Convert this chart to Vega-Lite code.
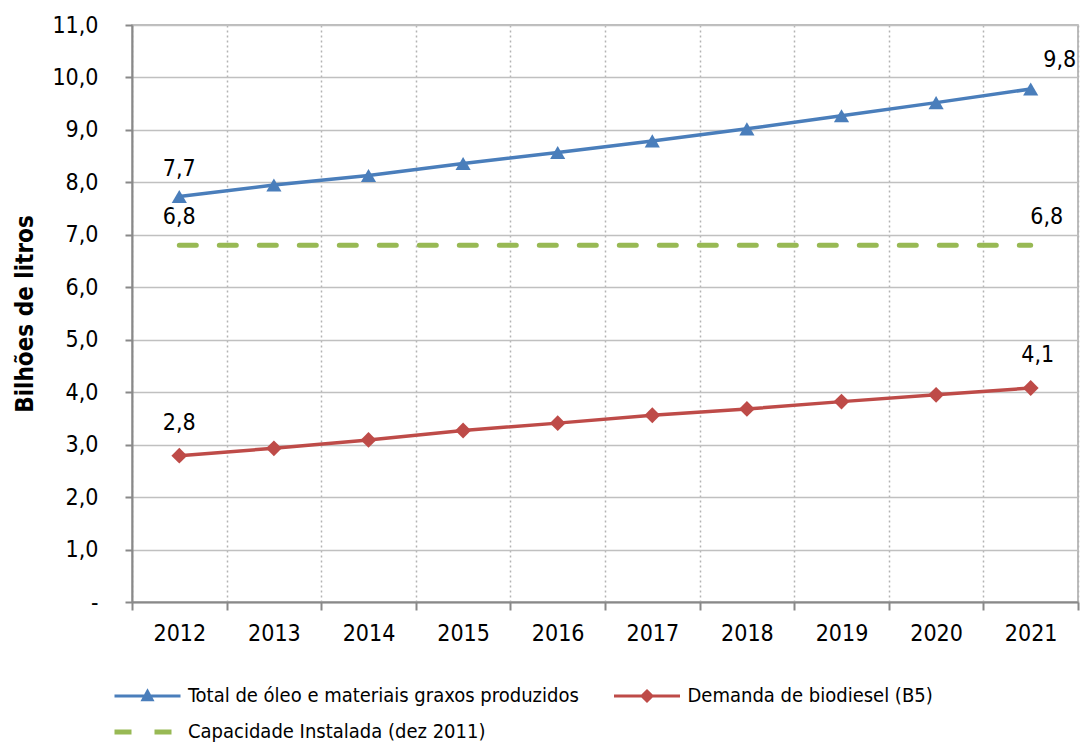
{
  "$schema": "https://vega.github.io/schema/vega-lite/v6.json",
  "width": 946,
  "height": 577,
  "autosize": {"type": "none"},
  "padding": {"left": 132, "top": 25, "right": 2, "bottom": 140},
  "background": "white",
  "config": {
    "font": "DejaVu Sans Condensed",
    "view": {"stroke": "#a6a6a6", "strokeWidth": 1.5},
    "legend": {
      "orient": "none",
      "title": null,
      "labelFontSize": 20,
      "labelColor": "#000000",
      "labelLimit": 700,
      "symbolSize": 400,
      "symbolOpacity": 1,
      "padding": 0
    }
  },
  "datasets": {
    "series": [
      {"series": "Total de óleo e materiais graxos produzidos", "year": 2012, "value": 7.73},
      {"series": "Total de óleo e materiais graxos produzidos", "year": 2013, "value": 7.95},
      {"series": "Total de óleo e materiais graxos produzidos", "year": 2014, "value": 8.13},
      {"series": "Total de óleo e materiais graxos produzidos", "year": 2015, "value": 8.36},
      {"series": "Total de óleo e materiais graxos produzidos", "year": 2016, "value": 8.57},
      {"series": "Total de óleo e materiais graxos produzidos", "year": 2017, "value": 8.79},
      {"series": "Total de óleo e materiais graxos produzidos", "year": 2018, "value": 9.02},
      {"series": "Total de óleo e materiais graxos produzidos", "year": 2019, "value": 9.27},
      {"series": "Total de óleo e materiais graxos produzidos", "year": 2020, "value": 9.52},
      {"series": "Total de óleo e materiais graxos produzidos", "year": 2021, "value": 9.78},
      {"series": "Demanda de biodiesel (B5)", "year": 2012, "value": 2.79},
      {"series": "Demanda de biodiesel (B5)", "year": 2013, "value": 2.93},
      {"series": "Demanda de biodiesel (B5)", "year": 2014, "value": 3.09},
      {"series": "Demanda de biodiesel (B5)", "year": 2015, "value": 3.27},
      {"series": "Demanda de biodiesel (B5)", "year": 2016, "value": 3.41},
      {"series": "Demanda de biodiesel (B5)", "year": 2017, "value": 3.56},
      {"series": "Demanda de biodiesel (B5)", "year": 2018, "value": 3.68},
      {"series": "Demanda de biodiesel (B5)", "year": 2019, "value": 3.82},
      {"series": "Demanda de biodiesel (B5)", "year": 2020, "value": 3.95},
      {"series": "Demanda de biodiesel (B5)", "year": 2021, "value": 4.08},
      {"series": "Capacidade Instalada (dez 2011)", "year": 2012, "value": 6.8},
      {"series": "Capacidade Instalada (dez 2011)", "year": 2013, "value": 6.8},
      {"series": "Capacidade Instalada (dez 2011)", "year": 2014, "value": 6.8},
      {"series": "Capacidade Instalada (dez 2011)", "year": 2015, "value": 6.8},
      {"series": "Capacidade Instalada (dez 2011)", "year": 2016, "value": 6.8},
      {"series": "Capacidade Instalada (dez 2011)", "year": 2017, "value": 6.8},
      {"series": "Capacidade Instalada (dez 2011)", "year": 2018, "value": 6.8},
      {"series": "Capacidade Instalada (dez 2011)", "year": 2019, "value": 6.8},
      {"series": "Capacidade Instalada (dez 2011)", "year": 2020, "value": 6.8},
      {"series": "Capacidade Instalada (dez 2011)", "year": 2021, "value": 6.8}
    ],
    "labels": [
      {"series": "Total", "year": 2012, "value": 7.73, "text": "7,7"},
      {"series": "Capacidade", "year": 2012, "value": 6.8, "text": "6,8"},
      {"series": "Demanda", "year": 2012, "value": 2.79, "text": "2,8"},
      {"series": "Total", "year": 2021, "value": 9.78, "text": "9,8"},
      {"series": "Capacidade", "year": 2021, "value": 6.8, "text": "6,8"},
      {"series": "Demanda", "year": 2021, "value": 4.08, "text": "4,1"}
    ]
  },
  "encoding": {
    "x": {
      "field": "year",
      "type": "quantitative",
      "scale": {"domain": [2011.5, 2021.5], "nice": false, "zero": false},
      "axis": {
        "title": null,
        "values": [2011.5, 2012, 2012.5, 2013, 2013.5, 2014, 2014.5, 2015, 2015.5, 2016, 2016.5, 2017, 2017.5, 2018, 2018.5, 2019, 2019.5, 2020, 2020.5, 2021, 2021.5],
        "labelExpr": "datum.value % 1 === 0 ? format(datum.value, 'd') : ''",
        "labelOverlap": false,
        "labelFlush": false,
        "labelBound": false,
        "labelFontSize": 23,
        "labelColor": "#000000",
        "labelPadding": 12,
        "grid": true,
        "gridDash": [2, 3],
        "gridColor": "#b3b3b3",
        "gridWidth": 1.5,
        "gridOpacity": {"condition": {"test": "datum.value % 1 === 0", "value": 0}, "value": 1},
        "ticks": true,
        "tickSize": 8,
        "tickWidth": 2,
        "tickColor": "#898989",
        "tickOpacity": {"condition": {"test": "datum.value % 1 === 0", "value": 0}, "value": 1},
        "domainColor": "#898989",
        "domainWidth": 2
      }
    },
    "y": {
      "field": "value",
      "type": "quantitative",
      "scale": {"domain": [0, 11], "nice": false, "zero": true},
      "axis": {
        "title": "Bilhões de litros",
        "titleFontSize": 24,
        "titleFontWeight": "bold",
        "titleColor": "#000000",
        "titlePadding": 14,
        "values": [0, 1, 2, 3, 4, 5, 6, 7, 8, 9, 10, 11],
        "labelExpr": "datum.value === 0 ? '-' : replace(format(datum.value, '.1f'), '.', ',')",
        "labelFontSize": 23,
        "labelColor": "#000000",
        "labelPadding": 27,
        "grid": true,
        "gridColor": "#c0c0c0",
        "gridWidth": 1.5,
        "tickSize": 7,
        "tickWidth": 2,
        "tickColor": "#898989",
        "domainColor": "#898989",
        "domainWidth": 2
      }
    }
  },
  "layer": [
    {
      "data": {"name": "series"},
      "transform": [{"filter": "datum.series === 'Total de óleo e materiais graxos produzidos'"}],
      "mark": {"type": "line", "strokeWidth": 3.5, "color": "#4a7ebb"}
    },
    {
      "data": {"name": "series"},
      "transform": [{"filter": "datum.series === 'Demanda de biodiesel (B5)'"}],
      "mark": {"type": "line", "strokeWidth": 3.5, "color": "#be4b48"}
    },
    {
      "data": {"name": "series"},
      "transform": [{"filter": "datum.series === 'Capacidade Instalada (dez 2011)'"}],
      "mark": {"type": "line", "strokeWidth": 5, "strokeCap": "round", "color": "#98b954"},
      "encoding": {
        "strokeDash": {
          "field": "series",
          "type": "nominal",
          "scale": {"domain": ["Capacidade Instalada (dez 2011)"], "range": [[17, 23]]},
          "legend": {
            "legendX": 3,
            "legendY": 694.5,
            "labelOffset": 28,
            "symbolType": "M-3.3,0H3.3",
            "symbolStrokeColor": "#98b954",
            "symbolFillColor": "transparent",
            "symbolStrokeWidth": 5
          }
        }
      }
    },
    {
      "data": {"name": "series"},
      "transform": [{"filter": "datum.series === 'Total de óleo e materiais graxos produzidos'"}],
      "mark": {"type": "point", "shape": "triangle-up", "filled": true, "size": 230, "opacity": 1},
      "encoding": {
        "color": {
          "field": "series",
          "type": "nominal",
          "scale": {"domain": ["Total de óleo e materiais graxos produzidos"], "range": ["#4a7ebb"]},
          "legend": {
            "legendX": 4,
            "legendY": 659.5,
            "labelOffset": 29,
            "symbolType": "M-3.3,0H3.3M-0.45,0.38L0,-0.45L0.45,0.38Z",
            "symbolStrokeColor": "#4a7ebb",
            "symbolStrokeWidth": 3
          }
        }
      }
    },
    {
      "data": {"name": "series"},
      "transform": [{"filter": "datum.series === 'Demanda de biodiesel (B5)'"}],
      "mark": {"type": "point", "shape": "diamond", "filled": true, "size": 250, "opacity": 1},
      "encoding": {
        "fill": {
          "field": "series",
          "type": "nominal",
          "scale": {"domain": ["Demanda de biodiesel (B5)"], "range": ["#be4b48"]},
          "legend": {
            "legendX": 503.5,
            "legendY": 659.5,
            "labelOffset": 29,
            "symbolType": "M-3.3,0H3.3M0,-0.5L0.5,0L0,0.5L-0.5,0Z",
            "symbolStrokeColor": "#be4b48",
            "symbolStrokeWidth": 3
          }
        }
      }
    },
    {
      "data": {"name": "labels"},
      "transform": [{"filter": "datum.year === 2012 && datum.series !== 'Demanda'"}],
      "mark": {"type": "text", "fontSize": 23, "color": "#000000", "align": "center", "baseline": "middle", "dy": -28},
      "encoding": {"text": {"field": "text"}}
    },
    {
      "data": {"name": "labels"},
      "transform": [{"filter": "datum.year === 2012 && datum.series === 'Demanda'"}],
      "mark": {"type": "text", "fontSize": 23, "color": "#000000", "align": "center", "baseline": "middle", "dy": -33},
      "encoding": {"text": {"field": "text"}}
    },
    {
      "data": {"name": "labels"},
      "transform": [{"filter": "datum.year === 2021 && datum.series === 'Total'"}],
      "mark": {"type": "text", "fontSize": 23, "color": "#000000", "align": "center", "baseline": "middle", "dx": 29, "dy": -29},
      "encoding": {"text": {"field": "text"}}
    },
    {
      "data": {"name": "labels"},
      "transform": [{"filter": "datum.year === 2021 && datum.series === 'Capacidade'"}],
      "mark": {"type": "text", "fontSize": 23, "color": "#000000", "align": "center", "baseline": "middle", "dx": 16, "dy": -28},
      "encoding": {"text": {"field": "text"}}
    },
    {
      "data": {"name": "labels"},
      "transform": [{"filter": "datum.year === 2021 && datum.series === 'Demanda'"}],
      "mark": {"type": "text", "fontSize": 23, "color": "#000000", "align": "center", "baseline": "middle", "dx": 7, "dy": -33},
      "encoding": {"text": {"field": "text"}}
    }
  ]
}
